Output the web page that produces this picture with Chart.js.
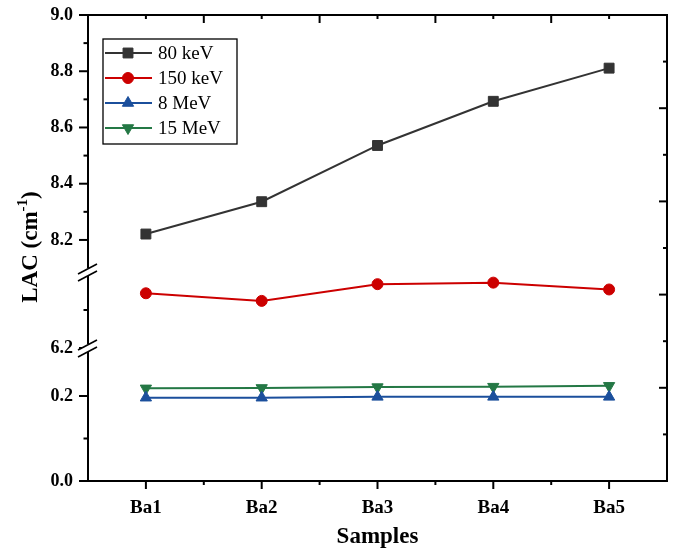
<!DOCTYPE html>
<html><head><meta charset="utf-8">
<script src="https://cdn.jsdelivr.net/npm/chart.js@4/dist/chart.umd.min.js"></script>
<style>html,body{margin:0;padding:0;background:#fff}canvas{display:block}</style>
</head><body>
<canvas id="c" width="675" height="551"></canvas>
<script>
const categories = ['Ba1', 'Ba2', 'Ba3', 'Ba4', 'Ba5'];
const seriesNames = ['80 keV', '150 keV', '8 MeV', '15 MeV'];
const lac80keV = [8.221, 8.336, 8.536, 8.693, 8.811];
const lac150keV = [6.344, 6.324, 6.368, 6.372, 6.354];
const lac8MeV = [0.196, 0.196, 0.198, 0.198, 0.198];
const lac15MeV = [0.218, 0.219, 0.221, 0.222, 0.224];
const topTicks = [8.2, 8.4, 8.6, 8.8, 9.0];
const topMinor = [8.3, 8.5, 8.7, 8.9];
const midTicks = [6.2];
const midMinor = [6.3];
const botTicks = [0.0, 0.2];
const botMinor = [0.1];
const rightMajor = [2, 4, 6, 8];
const rightMinor = [1, 3, 5, 7, 9];
const yTitle = ['LAC (cm', '-1', ')'];
const xTitle = 'Samples';

const SERIF = '"Liberation Serif", "Times New Roman", serif';
const colors = ['#333333', '#cc0000', '#1b4f9c', '#247845'];

function mkDs(label, data, axis, color, style, rot, r) {
  return { label, data, yAxisID: axis, borderColor: color, backgroundColor: color,
    pointBackgroundColor: color, pointBorderColor: color, borderWidth: 2,
    pointStyle: style, pointRotation: rot, pointRadius: r, pointHoverRadius: r,
    pointBorderWidth: 1, tension: 0, fill: false };
}

function fixTicks(vals) {
  return function (scale) { scale.ticks = vals.map(v => ({ value: v })); };
}
function leftAxis(min, max, weight, vals) {
  return { type: 'linear', position: 'left', stack: 'lac', stackWeight: weight,
    min, max, offset: false,
    grid: { display: false, drawTicks: false }, border: { display: false },
    afterBuildTicks: fixTicks(vals),
    afterFit: (s) => { s.width = 88; s.paddingTop = 0; s.paddingBottom = 0; },
    ticks: { padding: 15, color: '#000', font: { family: SERIF, size: 18, weight: 'bold' },
      callback: (v) => Number(v).toFixed(1) } };
}

const framePlugin = {
  id: 'frame',
  afterDraw(chart) {
    const ctx = chart.ctx, a = chart.chartArea, sc = chart.scales;
    ctx.save();
    ctx.strokeStyle = '#000'; ctx.lineWidth = 2; ctx.lineCap = 'butt';
    ctx.strokeRect(a.left, a.top, a.right - a.left, a.bottom - a.top);
    const line = (x1, y1, x2, y2) => { ctx.beginPath(); ctx.moveTo(x1, y1); ctx.lineTo(x2, y2); ctx.stroke(); };
    // left ticks (outward)
    [['yTop', topTicks, topMinor], ['yMid', midTicks, midMinor], ['yBot', botTicks, botMinor]].forEach(([id, maj, min]) => {
      maj.forEach(v => { const y = sc[id].getPixelForValue(v); line(a.left - 9, y, a.left, y); });
      min.forEach(v => { const y = sc[id].getPixelForValue(v); line(a.left - 4.5, y, a.left, y); });
    });
    // right ticks (inward)
    rightMajor.forEach(v => { const y = sc.yRight.getPixelForValue(v); line(a.right - 8, y, a.right, y); });
    rightMinor.forEach(v => { const y = sc.yRight.getPixelForValue(v); line(a.right - 4, y, a.right, y); });
    // x ticks
    const xs = sc.x;
    categories.forEach((c, i) => {
      const x = xs.getPixelForValue(i);
      line(x, a.bottom, x, a.bottom + 8);
      line(x, a.top, x, a.top + 4);
      if (i < categories.length - 1) {
        const xm = (x + xs.getPixelForValue(i + 1)) / 2;
        line(xm, a.bottom, xm, a.bottom + 4);
        line(xm, a.top, xm, a.top + 8);
      }
    });
    // axis breaks
    const breaks = [sc.yTop.bottom, sc.yMid.bottom];
    breaks.forEach(yb => {
      ctx.fillStyle = '#fff';
      ctx.beginPath();
      ctx.moveTo(a.left - 6, yb + 5); ctx.lineTo(a.left + 6, yb - 1);
      ctx.lineTo(a.left + 6, yb - 6); ctx.lineTo(a.left - 6, yb + 0);
      ctx.closePath(); ctx.fill();
      ctx.fillRect(a.left - 2, yb - 4, 4, 8);
      ctx.lineWidth = 1.6;
      line(a.left - 10, yb + 2, a.left + 9, yb - 8);
      line(a.left - 10, yb + 9, a.left + 9, yb - 1);
    });
    // y title
    ctx.fillStyle = '#000';
    ctx.translate(29, (a.top + a.bottom) / 2 - 1);
    ctx.rotate(-Math.PI / 2);
    const fBig = 'bold 23px ' + SERIF, fSmall = 'bold 15px ' + SERIF;
    ctx.font = fBig; const w0 = ctx.measureText(yTitle[0]).width, w2 = ctx.measureText(yTitle[2]).width;
    ctx.font = fSmall; const w1 = ctx.measureText(yTitle[1]).width;
    let x0 = -(w0 + w1 + w2) / 2;
    ctx.textBaseline = 'alphabetic'; ctx.textAlign = 'left';
    ctx.font = fBig; ctx.fillText(yTitle[0], x0, 8);
    ctx.font = fSmall; ctx.fillText(yTitle[1], x0 + w0, -2);
    ctx.font = fBig; ctx.fillText(yTitle[2], x0 + w0 + w1, 8);
    ctx.restore();
  }
};

const legendPlugin = {
  id: 'legendBox',
  afterDraw(chart) {
    const ctx = chart.ctx;
    ctx.save();
    const bx = 103, by = 39, bw = 134, bh = 105;
    ctx.fillStyle = '#fff'; ctx.fillRect(bx, by, bw, bh);
    ctx.strokeStyle = '#000'; ctx.lineWidth = 1.3; ctx.strokeRect(bx, by, bw, bh);
    chart.data.datasets.forEach((ds, i) => {
      const y = 53 + i * 25;
      ctx.strokeStyle = ds.borderColor; ctx.lineWidth = 2;
      ctx.beginPath(); ctx.moveTo(105, y); ctx.lineTo(152, y); ctx.stroke();
      ctx.fillStyle = ds.backgroundColor; ctx.strokeStyle = ds.borderColor; ctx.lineWidth = 1;
      Chart.helpers.drawPoint(ctx, { pointStyle: ds.pointStyle, rotation: ds.pointRotation, radius: ds.pointRadius, borderWidth: 1 }, 128, y);
      ctx.fillStyle = '#000'; ctx.font = '19px ' + SERIF; ctx.textBaseline = 'middle'; ctx.textAlign = 'left';
      ctx.fillText(ds.label, 158, y + 1);
    });
    ctx.restore();
  }
};

new Chart(document.getElementById('c'), {
  type: 'line',
  data: {
    labels: categories,
    datasets: [
      mkDs(seriesNames[0], lac80keV, 'yTop', colors[0], 'rect', 0, 7),
      mkDs(seriesNames[1], lac150keV, 'yMid', colors[1], 'circle', 0, 5.5),
      mkDs(seriesNames[2], lac8MeV, 'yBot', colors[2], 'triangle', 0, 6.5),
      mkDs(seriesNames[3], lac15MeV, 'yBot', colors[3], 'triangle', 180, 6.5)
    ]
  },
  options: {
    responsive: false, devicePixelRatio: 1, animation: false,
    layout: { padding: { top: 15, left: 0, right: 0, bottom: 0 } },
    plugins: { legend: { display: false }, tooltip: { enabled: false } },
    scales: {
      x: { type: 'category', offset: true,
        grid: { display: false, drawTicks: false }, border: { display: false },
        afterFit: (s) => { s.height = 70; },
        ticks: { padding: 16, color: '#000', font: { family: SERIF, size: 19, weight: 'bold' } },
        title: { display: true, text: xTitle, color: '#000', padding: { top: 0, bottom: 0 },
          font: { family: SERIF, size: 23, weight: 'bold' } } },
      yBot: leftAxis(0, 0.313, 133, botTicks),
      yMid: leftAxis(6.2, 6.4, 76, midTicks),
      yTop: leftAxis(8.086, 9.0, 257, topTicks),
      yRight: { type: 'linear', position: 'right', min: 0, max: 10,
        grid: { display: false, drawTicks: false }, border: { display: false },
        ticks: { display: false }, afterFit: (s) => { s.width = 8; s.paddingTop = 0; s.paddingBottom = 0; } }
    }
  },
  plugins: [framePlugin, legendPlugin]
});
</script>
</body></html>
